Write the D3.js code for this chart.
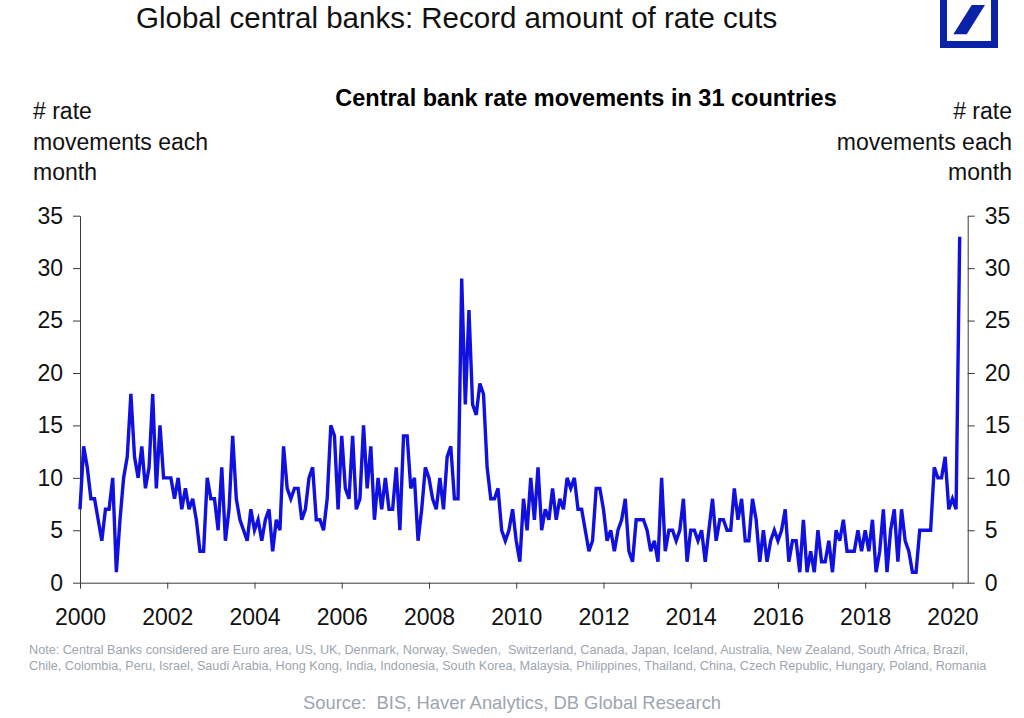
<!DOCTYPE html>
<html>
<head>
<meta charset="utf-8">
<script src="https://cdn.jsdelivr.net/npm/d3@7"></script>
<style>
  html, body { margin: 0; padding: 0; background: #ffffff; }
  svg { display: block; font-family: Arial, "Liberation Sans", sans-serif; }
</style>
</head>
<body>
<div id="chart"></div>
<script>
// monthly count of central bank rate moves, Jan 2000 .. Mar 2020
const startYear = 2000;
const movements = [
  7, 13, 11, 8, 8, 6, 4, 7, 7, 10, 1, 6,
  10, 12, 18, 12, 10, 13, 9, 11, 18, 9, 15, 10,
  10, 10, 8, 10, 7, 9, 7, 8, 6, 3, 3, 10,
  8, 8, 5, 11, 4, 7, 14, 8, 6, 5, 4, 7,
  5, 6, 4, 6, 7, 3, 6, 5, 13, 9, 8, 9,
  9, 6, 7, 10, 11, 6, 6, 5, 8, 15, 14, 7,
  14, 9, 8, 14, 7, 8, 15, 9, 13, 6, 10, 7,
  10, 7, 7, 11, 5, 14, 14, 9, 10, 4, 7, 11,
  10, 8, 7, 10, 7, 12, 13, 8, 8, 29, 17, 26,
  17, 16, 19, 18, 11, 8, 8, 9, 5, 4, 5, 7,
  4, 2, 8, 5, 10, 6, 11, 5, 7, 6, 9, 6,
  8, 7, 10, 9, 10, 7, 7, 5, 3, 4, 9, 9,
  7, 4, 5, 3, 5, 6, 8, 3, 2, 6, 6, 6,
  5, 3, 4, 2, 10, 3, 5, 5, 4, 5, 8, 2,
  5, 5, 4, 5, 2, 5, 8, 4, 6, 6, 5, 5,
  9, 6, 8, 4, 4, 8, 6, 2, 5, 2, 4, 5,
  4, 5, 7, 2, 4, 4, 1, 6, 1, 3, 1, 5,
  2, 2, 4, 1, 5, 4, 6, 3, 3, 3, 5, 3,
  5, 3, 6, 1, 3, 7, 1, 5, 7, 2, 7, 4,
  3, 1, 1, 5, 5, 5, 5, 11, 10, 10, 12, 7,
  8, 7, 33
];
const xTicks = [2000, 2002, 2004, 2006, 2008, 2010, 2012, 2014, 2016, 2018, 2020];
const yTicks = [0, 5, 10, 15, 20, 25, 30, 35];
const axisLabelLines = ['# rate', 'movements each', 'month'];
const noteLines = [
  'Note: Central Banks considered are Euro area, US, UK, Denmark, Norway, Sweden,  Switzerland, Canada, Japan, Iceland, Australia, New Zealand, South Africa, Brazil,',
  'Chile, Colombia, Peru, Israel, Saudi Arabia, Hong Kong, India, Indonesia, South Korea, Malaysia, Philippines, Thailand, China, Czech Republic, Hungary, Poland, Romania'
];

const width = 1024;
const height = 718;
const plot = { left: 80, right: 967.7, top: 215.7, bottom: 582.7 };
const lineBlue = '#1010e0';
const noteGrey = '#9ca5af';

const svg = d3.select('#chart').append('svg')
  .attr('width', width)
  .attr('height', height);

const xScale = d3.scaleLinear().domain([2000, 2020.35]).range([plot.left, plot.right]);
const yScale = d3.scaleLinear().domain([0, 35]).range([plot.bottom, plot.top]);

// titles
svg.append('text')
  .attr('x', 136).attr('y', 28)
  .attr('fill', '#111111')
  .style('font-size', '29.5px')
  .text('Global central banks: Record amount of rate cuts');

svg.append('text')
  .attr('x', 586).attr('y', 106)
  .attr('text-anchor', 'middle')
  .attr('fill', '#000000')
  .style('font-size', '23.5px')
  .style('font-weight', 'bold')
  .text('Central bank rate movements in 31 countries');

// DB logo
const logo = svg.append('g').attr('transform', 'translate(940, -10)');
logo.append('rect')
  .attr('x', 3.5).attr('y', 3.5).attr('width', 51).attr('height', 51)
  .attr('fill', 'none').attr('stroke', '#0a22a8').attr('stroke-width', 7);
logo.append('path')
  .attr('d', 'M13.3,44.3 L26.7,44.3 L45,15 L31.7,15 Z')
  .attr('fill', '#0a22a8');

// axis titles, left and right
axisLabelLines.forEach((t, i) => {
  svg.append('text')
    .attr('x', 33).attr('y', 119 + i * 30.5)
    .attr('fill', '#111111').style('font-size', '23px')
    .text(t);
  svg.append('text')
    .attr('x', 1012).attr('y', 119 + i * 30.5)
    .attr('text-anchor', 'end')
    .attr('fill', '#111111').style('font-size', '23px')
    .text(t);
});

// axes
const styleAxis = g => {
  g.selectAll('.domain').attr('stroke', '#3a3a3a');
  g.selectAll('line').attr('stroke', '#3a3a3a');
  g.selectAll('text').attr('fill', '#111111').style('font-size', '23px')
    .style('font-family', 'Arial, "Liberation Sans", sans-serif');
};

svg.append('g')
  .attr('transform', `translate(${plot.left}, 0)`)
  .call(d3.axisLeft(yScale).tickValues(yTicks).tickSize(7).tickPadding(10).tickSizeOuter(0))
  .call(styleAxis);

svg.append('g')
  .attr('transform', `translate(${plot.right}, 0)`)
  .call(d3.axisRight(yScale).tickValues(yTicks).tickSize(7).tickPadding(10).tickSizeOuter(0))
  .call(styleAxis);

svg.append('g')
  .attr('transform', `translate(0, ${plot.bottom})`)
  .call(d3.axisBottom(xScale).tickValues(xTicks).tickFormat(d3.format('d')).tickSize(6).tickPadding(20).tickSizeOuter(0))
  .call(styleAxis);

// series
const line = d3.line()
  .x((d, i) => xScale(startYear + i / 12))
  .y(d => yScale(d));

svg.append('path')
  .datum(movements)
  .attr('fill', 'none')
  .attr('stroke', lineBlue)
  .attr('stroke-width', 3.4)
  .attr('stroke-linejoin', 'miter')
  .attr('d', line);

// footnotes
noteLines.forEach((t, i) => {
  svg.append('text')
    .attr('x', 29).attr('y', 654 + i * 16)
    .attr('fill', noteGrey)
    .style('font-size', '12.65px')
    .style('white-space', 'pre')
    .text(t);
});

svg.append('text')
  .attr('x', 303).attr('y', 709)
  .attr('fill', noteGrey)
  .style('font-size', '18.4px')
  .style('white-space', 'pre')
  .text('Source:  BIS, Haver Analytics, DB Global Research');
</script>
</body>
</html>
